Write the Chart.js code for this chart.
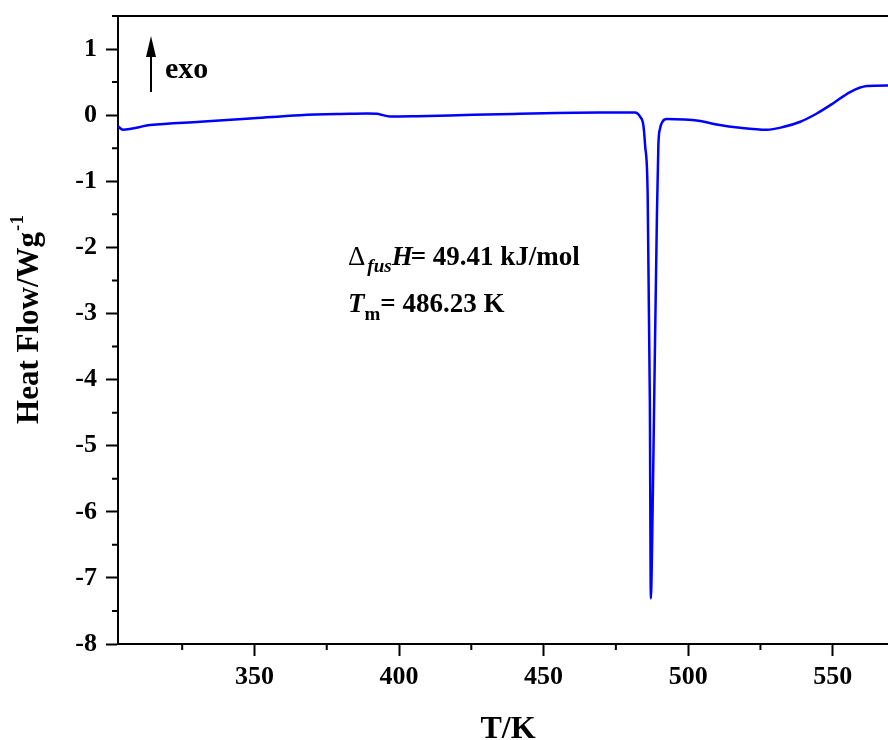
<!DOCTYPE html>
<html>
<head>
<meta charset="utf-8">
<script src="https://cdn.jsdelivr.net/npm/chart.js@4.4.1/dist/chart.umd.min.js"></script>
<style>
  body { margin: 0; background: #fff; }
  #wrap { width: 888px; height: 740px; overflow: hidden; }
</style>
</head>
<body>
<div id="wrap"><canvas id="dsc" width="920" height="740"></canvas></div>
<script>
// DSC curve
const temps = [302.8, 304.5, 313.9, 331.2, 348.5, 365.8, 383.0, 388.9, 392.4, 396.9,
  406.2, 417.6, 434.9, 469.5, 481.6, 483.4, 484.5, 485.1, 486.0, 486.75,
  487.1, 487.5, 488.3, 489.2, 489.7, 490.3, 491.1, 492.6, 504.2, 509.9,
  518.0, 527.2, 532.8, 538.8, 544.5, 550.2, 556.0, 561.8, 568.7, 575];
const heatFlow = [-0.17, -0.22, -0.15, -0.10, -0.05, 0.0, 0.02, 0.025, 0.02, -0.02,
  -0.015, -0.005, 0.015, 0.04, 0.04, -0.025, -0.15, -0.45, -1.21, -4.31,
  -7.31, -6.58, -4.16, -1.51, -0.45, -0.20, -0.10, -0.06, -0.09, -0.14,
  -0.19, -0.22, -0.18, -0.10, 0.025, 0.18, 0.35, 0.44, 0.45, 0.44];

const xMinor = [325, 375, 425, 475, 525, 575];
const yMinor = [-7.5, -6.5, -5.5, -4.5, -3.5, -2.5, -1.5, -0.5, 0.5, 1.5];

const serif = '"Liberation Serif", "Times New Roman", serif';

// frame, minor ticks, axis titles and notes
const extras = {
  id: 'extras',
  afterDraw(chart) {
    const { ctx, chartArea: a, scales: { x, y } } = chart;
    ctx.save();
    ctx.strokeStyle = '#000';
    ctx.lineWidth = 2;
    ctx.beginPath();
    ctx.moveTo(a.left - 1, a.top);
    ctx.lineTo(a.right, a.top);
    ctx.lineTo(a.right, a.bottom);
    ctx.stroke();

    ctx.beginPath();
    xMinor.forEach(v => {
      const px = x.getPixelForValue(v);
      ctx.moveTo(px, a.bottom);
      ctx.lineTo(px, a.bottom + 6);
    });
    yMinor.forEach(v => {
      const py = y.getPixelForValue(v);
      ctx.moveTo(a.left - 6, py);
      ctx.lineTo(a.left, py);
    });
    ctx.stroke();

    ctx.fillStyle = '#000';
    // x title
    ctx.font = 'bold 32px ' + serif;
    ctx.textAlign = 'center';
    ctx.textBaseline = 'alphabetic';
    ctx.fillText('T/K', 508, 738);

    // y title with superscript
    ctx.save();
    ctx.translate(30, 320);
    ctx.rotate(-Math.PI / 2);
    ctx.textAlign = 'left';
    ctx.textBaseline = 'middle';
    ctx.font = 'bold 31px ' + serif;
    const main = 'Heat Flow/Wg';
    const wMain = ctx.measureText(main).width;
    ctx.font = 'bold 19px ' + serif;
    const wSup = ctx.measureText('-1').width;
    const x0 = -(wMain + wSup) / 2;
    ctx.font = 'bold 31px ' + serif;
    ctx.fillText(main, x0, 0);
    ctx.font = 'bold 19px ' + serif;
    ctx.fillText('-1', x0 + wMain + 1, -12);
    ctx.restore();

    // exo arrow
    ctx.beginPath();
    ctx.moveTo(151, 92);
    ctx.lineTo(151, 52);
    ctx.stroke();
    ctx.beginPath();
    ctx.moveTo(151, 36);
    ctx.lineTo(146, 57);
    ctx.lineTo(156, 57);
    ctx.closePath();
    ctx.fill();
    ctx.textAlign = 'left';
    ctx.textBaseline = 'alphabetic';
    ctx.font = 'bold 30px ' + serif;
    ctx.fillText('exo', 165, 78);

    // enthalpy note
    let cx = 348;
    ctx.font = '27px ' + serif;
    ctx.fillText('\u0394', cx, 265);
    cx += ctx.measureText('\u0394').width + 2;
    ctx.font = 'italic bold 19px ' + serif;
    ctx.fillText('fus', cx, 272);
    cx += ctx.measureText('fus').width;
    ctx.font = 'italic bold 27px ' + serif;
    ctx.fillText('H', cx, 265);
    cx += ctx.measureText('H').width - 2;
    ctx.font = 'bold 27px ' + serif;
    ctx.fillText('= 49.41 kJ/mol', cx, 265);

    cx = 348;
    ctx.font = 'italic bold 27px ' + serif;
    ctx.fillText('T', cx, 312);
    cx += ctx.measureText('T').width;
    ctx.font = 'bold 19px ' + serif;
    ctx.fillText('m', cx, 320);
    cx += ctx.measureText('m').width;
    ctx.font = 'bold 27px ' + serif;
    ctx.fillText('= 486.23 K', cx, 312);
    ctx.restore();
  }
};

new Chart(document.getElementById('dsc'), {
  type: 'line',
  data: {
    datasets: [{
      data: temps.map((t, i) => ({ x: t, y: heatFlow[i] })),
      borderColor: '#0000ff',
      borderWidth: 2.5,
      pointRadius: 0,
      cubicInterpolationMode: 'monotone',
      fill: false
    }]
  },
  options: {
    responsive: false,
    animation: false,
    layout: { padding: { left: 0, top: 16, right: 15, bottom: 0 } },
    plugins: {
      legend: { display: false },
      tooltip: { enabled: false }
    },
    scales: {
      x: {
        type: 'linear',
        min: 302.8,
        max: 575,
        afterFit: s => { s.height = 96; s.paddingLeft = 0; s.paddingRight = 0; },
        border: { color: '#000', width: 2 },
        grid: { drawOnChartArea: false, tickLength: 12, tickColor: '#000', tickWidth: 2 },
        ticks: {
          stepSize: 50,
          includeBounds: false,
          padding: 6,
          color: '#000',
          font: { family: serif, size: 26, weight: 'bold' }
        }
      },
      y: {
        min: -8,
        max: 1.5,
        afterFit: s => { s.width = 118; s.paddingTop = 0; s.paddingBottom = 0; },
        border: { color: '#000', width: 2 },
        grid: { drawOnChartArea: false, tickLength: 12, tickColor: '#000', tickWidth: 2 },
        ticks: {
          stepSize: 1,
          includeBounds: false,
          padding: 9,
          color: '#000',
          font: { family: serif, size: 26, weight: 'bold' }
        }
      }
    }
  },
  plugins: [extras]
});
</script>
</body>
</html>
